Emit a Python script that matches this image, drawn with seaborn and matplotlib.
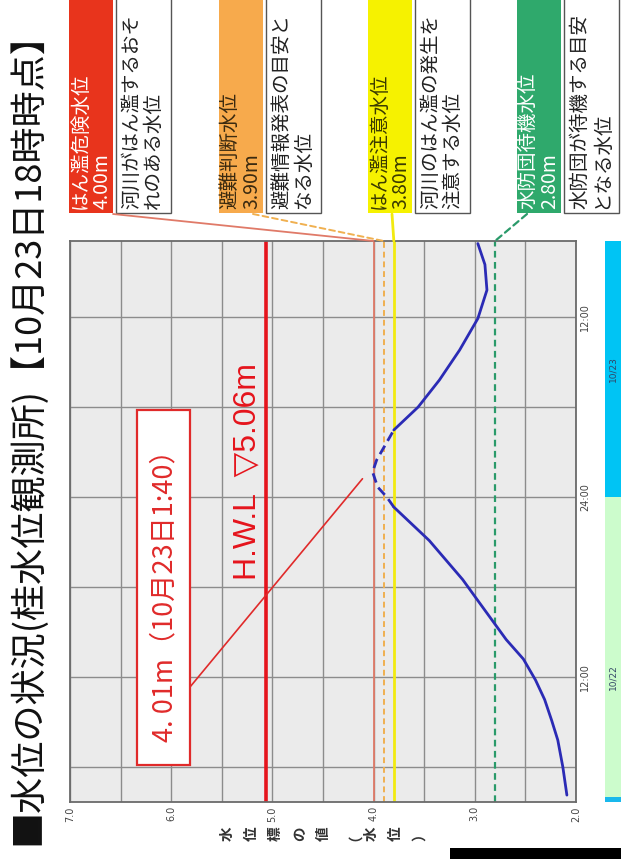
import numpy as np
import pandas as pd
import matplotlib
matplotlib.use("Agg")
import matplotlib.pyplot as plt
import matplotlib.transforms as mtransforms
from matplotlib.patches import Rectangle, ConnectionPatch
import seaborn as sns

sns.set_theme(style="white")
plt.rcParams["font.family"] = ["Noto Sans CJK JP", "DejaVu Sans"]

# ---- data -------------------------------------------------------------
title = "■水位の状況(桂水位観測所)【10月23日18時時点】"

# hours counted from 10/22 00:00, water level in metres
hours = [4.13, 6.0, 7.8, 9.1, 10.5, 11.8, 13.2, 14.5, 17.1, 18.5, 21.1, 23.33,
         24.0, 24.67, 25.67, 26.47, 28.47, 30.0, 31.8, 33.8, 35.9, 37.8,
         39.5, 40.9]
levels = [2.09, 2.13, 2.18, 2.24, 2.31, 2.40, 2.52, 2.69, 2.97, 3.12, 3.45, 3.80,
          3.87, 3.96, 4.01, 3.97, 3.80, 3.56, 3.35, 3.15, 2.97, 2.88,
          2.90, 2.97]

peak_label = "4. 01m（10月23日1:40）"
hwl_value = 5.06

th_names = ["はん濫危険水位", "避難判断水位", "はん濫注意水位", "水防団待機水位"]
th_values = [4.00, 3.90, 3.80, 2.80]
th_desc = ["河川がはん濫するおそ\nれのある水位",
           "避難情報発表の目安と\nなる水位",
           "河川のはん濫の発生を\n注意する水位",
           "水防団が待機する目安\nとなる水位"]

level_ticks = [7.0, 6.5, 6.0, 5.5, 5.0, 4.5, 4.0, 3.5, 3.0, 2.5, 2.0]
level_labels = ["7.0", "", "6.0", "", "5.0", "", "4.0", "", "3.0", "", "2.0"]
time_ticks = [6, 12, 18, 24, 30, 36]
time_labels = ["", "12:00", "", "24:00", "", "12:00"]
day_edges = [3.67, 4.0, 24.0, 41.07]
day_labels = ["10/22", "10/23"]
day_label_hours = [12.0, 32.5]
axis_label = "水位標の値（水位）"

# ---- styling ------------------------------------------------------------
th_box_colors = ["#e8341c", "#f7aa4c", "#f6f200", "#2fa96c"]
th_text_colors = ["white", "#3a2a10", "#3a3a00", "white"]
th_line_colors = ["#e07a68", "#f0b050", "#f2ea10", "#2a9a6a"]
th_line_styles = ["-", (0, (3, 2)), "-", (0, (3, 2))]
th_line_widths = [1.3, 1.4, 2.0, 1.6]
box_lefts = [69, 219, 368, 517]
conn_start_x = [113, 253, 392, 527]

W, H = 621, 859
fig = plt.figure(figsize=(W / 100, H / 100), dpi=100)
fig.patch.set_facecolor("white")


def fx(x):
    return x / W


def fy(y):
    return 1 - y / H


AX_L, AX_R, AX_T, AX_B = 70, 576, 241, 802
ax = fig.add_axes([fx(AX_L), fy(AX_B), (AX_R - AX_L) / W, (AX_B - AX_T) / H])
ax.set_facecolor("#ebebeb")

# ---- water level curve ---------------------------------------------------
df = pd.DataFrame({"hour": hours, "level": levels})
over = df["level"] >= 3.80
idx_first = over.idxmax()
idx_last = over[::-1].idxmax()
seg_low = df.loc[:idx_first]
seg_high = df.loc[idx_first:idx_last]
seg_after = df.loc[idx_last:]

line_kw = dict(x="level", y="hour", sort=False, estimator=None,
               color="#2b2bb5", linewidth=2.0, ax=ax, legend=False)
sns.lineplot(data=seg_low, **line_kw)
sns.lineplot(data=seg_after, **line_kw)
sns.lineplot(data=seg_high, linestyle=(0, (3.5, 2)), **line_kw)

# ---- axes ------------------------------------------------------------------
ax.set_xlim(7.0, 2.0)
ax.set_ylim(day_edges[0], day_edges[-1])
ax.set_xticks(level_ticks)
ax.set_xticklabels(level_labels, rotation=90, fontsize=7, color="#444444",
                   family="DejaVu Sans")
ax.yaxis.tick_right()
ax.set_yticks(time_ticks)
ax.set_yticklabels(time_labels, rotation=90, fontsize=7, color="#444444",
                   family="DejaVu Sans", va="center")
ax.tick_params(axis="both", length=0, pad=3)
ax.grid(True, color="#8c8c8c", linewidth=1.0)
ax.set_xlabel("")
ax.set_ylabel("")
for sp in ax.spines.values():
    sp.set_color("#6a6a6a")
    sp.set_linewidth(1.3)

# threshold lines
for v, c, ls, lw in zip(th_values, th_line_colors, th_line_styles, th_line_widths):
    ax.axvline(v, color=c, linestyle=ls, linewidth=lw, zorder=1.5)
ax.axvline(hwl_value, color="#e5141c", linewidth=2.6, zorder=1.6)

# H.W.L label
ax.text(hwl_value + 0.04, 0.59, f"H.W.L  ▽{hwl_value:.2f}m",
        transform=mtransforms.blended_transform_factory(ax.transData, ax.transAxes),
        rotation=90, rotation_mode="anchor", ha="center", va="bottom",
        color="#e5141c", fontsize=23, family=["Liberation Sans", "DejaVu Sans"])

# ---- peak annotation ---------------------------------------------------
peak_i = int(np.argmax(levels))
box_l, box_r, box_t, box_b = 137, 190, 410, 765
fig.add_artist(Rectangle((fx(box_l), fy(box_b)), (box_r - box_l) / W,
                         (box_b - box_t) / H, transform=fig.transFigure,
                         facecolor="white", edgecolor="#e02a2a", linewidth=1.6,
                         zorder=5))
fig.text(fx((box_l + box_r) / 2 + 1), fy((box_t + box_b) / 2 + 2), peak_label,
         rotation=90, ha="center", va="center", color="#e02a2a",
         fontsize=19.5, zorder=6)
con = ConnectionPatch(xyA=(fx(box_r), fy(687)), coordsA=fig.transFigure,
                      xyB=(levels[peak_i] + 0.1, hours[peak_i] - 0.45),
                      coordsB=ax.transData, color="#e02a2a", linewidth=1.2,
                      zorder=5)
fig.add_artist(con)

# ---- threshold label boxes ------------------------------------------------
BOX_TOP, BOX_BOT = -5, 213
for i in range(4):
    l = box_lefts[i]
    fig.add_artist(Rectangle((fx(l), fy(BOX_BOT)), 44 / W, (BOX_BOT - BOX_TOP) / H,
                             transform=fig.transFigure, facecolor=th_box_colors[i],
                             edgecolor="none"))
    fig.text(fx(l + 22), fy(BOX_BOT - 4), f"{th_names[i]}\n{th_values[i]:.2f}m",
             rotation=90, rotation_mode="anchor", ha="left", va="center",
             multialignment="left", color=th_text_colors[i], fontsize=14,
             linespacing=1.05)
    wl = l + 47
    fig.add_artist(Rectangle((fx(wl), fy(BOX_BOT)), 55 / W, (BOX_BOT - BOX_TOP) / H,
                             transform=fig.transFigure, facecolor="white",
                             edgecolor="#555555", linewidth=1.0))
    fig.text(fx(wl + 27), fy(BOX_BOT - 4), th_desc[i],
             rotation=90, rotation_mode="anchor", ha="left", va="center",
             multialignment="left", color="#222222", fontsize=14,
             linespacing=1.05)
    c = ConnectionPatch(xyA=(fx(conn_start_x[i]), fy(BOX_BOT + 1)),
                        coordsA=fig.transFigure,
                        xyB=(th_values[i], 1.0), coordsB=ax.get_xaxis_transform(),
                        color=th_line_colors[i], linestyle=th_line_styles[i],
                        linewidth=th_line_widths[i])
    fig.add_artist(c)

# ---- date band ---------------------------------------------------------------
band_tr = mtransforms.blended_transform_factory(fig.transFigure, ax.transData)
band_colors = ["#19b8ec", "#ccfccc", "#00c4f4"]
for (h0, h1), col in zip(zip(day_edges[:-1], day_edges[1:]), band_colors):
    fig.add_artist(Rectangle((fx(605), h0), 16 / W, h1 - h0, transform=band_tr,
                             facecolor=col, edgecolor="none"))
for lab, hh in zip(day_labels, day_label_hours):
    fig.text(fx(613), hh, lab, transform=band_tr, rotation=90, ha="center",
             va="center", fontsize=6.5, color="#334466", family="DejaVu Sans")

# ---- vertical-style axis label ------------------------------------------------
cx = (AX_L + AX_R) / 2
for i, ch in enumerate(axis_label):
    fig.text(fx(cx + (i - (len(axis_label) - 1) / 2) * 24), fy(834), ch,
             rotation=90, ha="center", va="center", fontsize=10.5, color="#333333",
             weight="bold")

# ---- title -----------------------------------------------------------------
fig.text(fx(28), fy(430), title, rotation=90, ha="center", va="center",
         fontsize=26, color="#111111")

# bar at the bottom edge
fig.add_artist(Rectangle((fx(450), 0), 171 / W, 11 / H, transform=fig.transFigure,
                         facecolor="black", edgecolor="none"))

fig.savefig("out.png", dpi=100)
